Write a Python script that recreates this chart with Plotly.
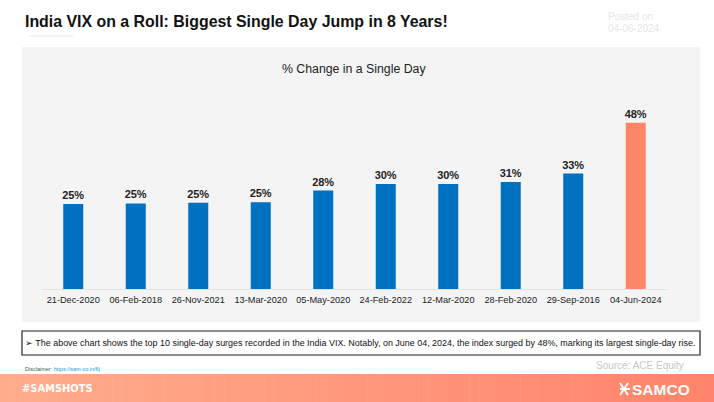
import plotly.graph_objects as go

dates = ["21-Dec-2020","06-Feb-2018","26-Nov-2021","13-Mar-2020","05-May-2020","24-Feb-2022","12-Mar-2020","28-Feb-2020","29-Sep-2016","04-Jun-2024"]
changes = [24.5,24.7,24.9,25.0,28.4,30.3,30.3,30.9,33.3,48.0]
bar_colors = ["#0070C0"]*9 + ["#FF8569"]

W, H = 714, 402
FONT = "Liberation Sans"
def px(x): return x/W
def py(y): return 1-y/H

fig = go.Figure(go.Bar(
    x=dates, y=changes, marker_color=bar_colors, marker_line_width=0, width=0.32,
    texttemplate="<b>%{y:.0f}%</b>", textposition="outside", cliponaxis=False, constraintext="none",
    textfont=dict(family=FONT, size=11, color="#222222"),
))

shapes = []
def rect(x0,y0,x1,y1,fill=None,line=None,lw=0,layer="below"):
    shapes.append(dict(type="rect",xref="paper",yref="paper",x0=px(x0),x1=px(x1),y0=py(y0),y1=py(y1),
        fillcolor=fill,line=dict(color=line,width=lw) if line else dict(width=0),layer=layer))

rect(22,47,700,322,fill="#F4F4F4")
rect(29,35.5,73,36.5,fill="#F5E6DC")
rect(22,331,700,355,fill="#FFFFFF",line="#222222",lw=1.2)
# footer gradient band
n=70
c0=(255,172,140); c1=(255,132,106)
for i in range(n):
    t=i/(n-1)
    col="rgb(%d,%d,%d)"%tuple(round(a+(b-a)*t) for a,b in zip(c0,c1))
    rect(W*i/n,374,W*(i+1)/n+0.5,402,fill=col)
# logo glyph
def P(x,y): return f"{px(x)} {py(y)}"
shapes.append(dict(type="path",xref="paper",yref="paper",layer="above",
    path=f"M{P(620,383)} L{P(628,395)} M{P(628,383)} L{P(620,395)} M{P(620,389)} L{P(630,389)}",
    line=dict(color="#FFFFFF",width=1.8)))

def note(text,x,y,size,color="#222222",anchor="left",bold=False,family=FONT):
    if bold: text=f"<b>{text}</b>"
    return dict(text=text,x=px(x),y=py(y),xref="paper",yref="paper",showarrow=False,xanchor=anchor,yanchor="middle",
                font=dict(family=family,size=size,color=color))

annotations=[
    note("India VIX on a Roll: Biggest Single Day Jump in 8 Years!",23,22,15.9,"#111111",bold=True),
    note("Posted on",606,17,10,"#E6E6E6"),
    note("04-06-2024",606,29,10,"#E6E6E6"),
    note("% Change in a Single Day",354,69,12.3,"#222222",anchor="center"),
    note("➢ The above chart shows the top 10 single-day surges recorded in the India VIX. Notably, on June 04, 2024, the index surged by 48%, marking its largest single-day rise.",360,343,8.95,"#111111",anchor="center"),
    note("Source: ACE Equity",686,365,10,"#C8C8C8",anchor="right"),
    note("Disclaimer: <span style='color:#3A8FD0'>https://sam-co.in/6j</span>",23,369,5.5,"#555555"),
    note("#SAMSHOTS",20,388.5,11,"#FFFFFF",bold=True,family="DejaVu Sans Condensed"),
    note("SAMCO",630,389,15.5,"#FFFFFF",bold=True),
]

fig.update_layout(
    width=W,height=H,autosize=False,margin=dict(l=0,r=0,t=0,b=0),
    paper_bgcolor="#FFFFFF",plot_bgcolor="rgba(0,0,0,0)",showlegend=False,
    shapes=shapes,annotations=annotations,
    xaxis=dict(domain=[px(42),px(667)],type="category",showgrid=False,showline=True,linecolor="#E2E2E2",linewidth=1,
               ticks="outside",tickcolor="rgba(0,0,0,0)",ticklen=2,
               tickfont=dict(family=FONT,size=9.2,color="#222222"),tickangle=0,automargin=False),
    yaxis=dict(domain=[py(289),py(98.4)],range=[0,55],visible=False,fixedrange=True),
)
fig.write_html("out.html",config=dict(displayModeBar=False),
               post_script="document.body.style.margin='0';document.documentElement.style.overflow='hidden';")
